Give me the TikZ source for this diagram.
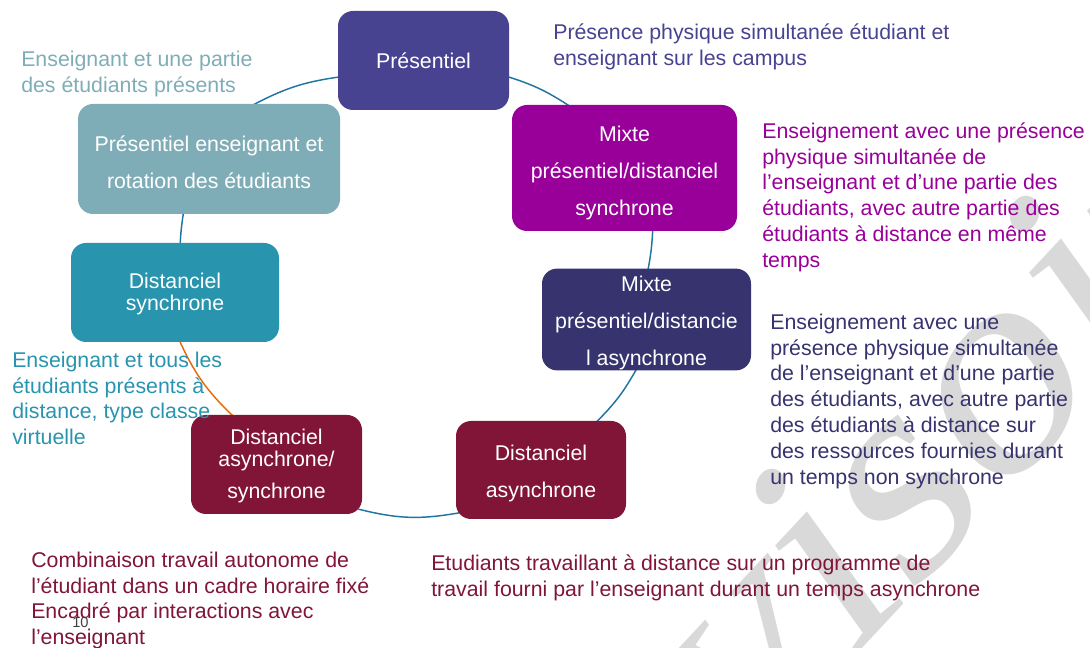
\documentclass[tikz,border=0pt]{standalone}
\usepackage{fontspec}
\setmainfont{Liberation Sans}
\newfontfamily\wmfont{Liberation Serif}
\usetikzlibrary{backgrounds}
\definecolor{cPres}{RGB}{72,67,145}
\definecolor{cMixS}{RGB}{153,0,153}
\definecolor{cMixA}{RGB}{54,51,110}
\definecolor{cDist}{RGB}{128,21,56}
\definecolor{cSync}{RGB}{40,148,174}
\definecolor{cRot}{RGB}{127,173,183}
\definecolor{cLink}{RGB}{31,117,160}
\definecolor{cOrange}{RGB}{228,108,10}
\definecolor{cWm}{RGB}{217,217,217}
\definecolor{cNum}{RGB}{64,64,64}
\newcommand{\liftline}[1]{\rule{0pt}{#1}}
\begin{document}
\begin{tikzpicture}[x=0.75pt,y=0.75pt,
  box/.style={draw=none, rounded corners=11.25pt, text=white, align=center, inner sep=0pt, font=\fontsize{16}{27.75}\selectfont},
  desc/.style={anchor=north west, align=left, inner sep=0pt, font=\fontsize{16}{19.35}\selectfont},
  link/.style={draw=cLink, line width=1.1pt, shorten <=-3pt, shorten >=-3pt},
  watermark/.style={anchor=base west, rotate=47, xslant=0.2, xscale=1.1, inner sep=0pt, text=cWm, font=\wmfont\fontsize{218}{218}\selectfont}
]
\useasboundingbox (0,0) rectangle (1090,-648);

% boxes
\node[box, fill=cPres, minimum width=128.25pt, minimum height=74.25pt] (b1) at (423.5,-60.5) {Présentiel};
\node[box, fill=cMixS, minimum width=168.75pt, minimum height=94.5pt] (b2) at (624.5,-168) {\liftline{19pt}Mixte\\présentiel/distanciel\\synchrone};
\node[box, fill=cMixA, minimum width=156.75pt, minimum height=74.25pt] (b3) at (646.5,-319.5) {\liftline{17.5pt}Mixte\\présentiel/distancie\\l asynchrone};
\node[box, fill=cDist, minimum width=127.5pt, minimum height=73.5pt] (b4) at (541,-470) {\liftline{17.5pt}Distanciel\\asynchrone};
\node[box, fill=cDist, minimum width=128.25pt, minimum height=74.25pt, font=\fontsize{16}{16.5}\selectfont] (b5) at (276.5,-464.5) {\liftline{13.7pt}Distanciel\\asynchrone/\\[7.5pt]synchrone};
\node[box, fill=cSync, minimum width=156pt, minimum height=74.25pt, font=\fontsize{16}{17}\selectfont] (b6) at (175,-292.5) {\liftline{13.7pt}Distanciel\\synchrone};
\node[box, fill=cRot, minimum width=196.5pt, minimum height=82.5pt] (b7) at (209,-159) {\liftline{16.5pt}Présentiel enseignant et\\rotation des étudiants};

% descriptions
\node[desc, text=cPres] (t1) at (553,-21) {\strut Présence physique simultanée étudiant et\\enseignant sur les campus};
\node[desc, text=cMixS] (t2) at (762,-120) {\strut Enseignement avec une présence\\physique simultanée de\\l’enseignant et d’une partie des\\étudiants, avec autre partie des\\étudiants à distance en même\\temps};
\node[desc, text=cMixA] (t3) at (770,-311) {\strut Enseignement avec une\\présence physique simultanée\\de l’enseignant et d’une partie\\des étudiants, avec autre partie\\des étudiants à distance sur\\des ressources fournies durant\\un temps non synchrone};
\node[desc, text=cDist] (t4) at (431,-552) {\strut Etudiants travaillant à distance sur un programme de\\travail fourni par l’enseignant durant un temps asynchrone};
\node[desc, text=cDist] (t5) at (31,-549) {\strut Combinaison travail autonome de\\l’étudiant dans un cadre horaire fixé\\Encadré par interactions avec\\l’enseignant};
\node[desc, text=cSync] (t6) at (12,-349) {\strut Enseignant et tous les\\étudiants présents à\\distance, type classe\\virtuelle};
\node[desc, text=cRot] (t7) at (21,-48) {\strut Enseignant et une partie\\des étudiants présents};
\node[anchor=base west, inner sep=0pt, text=cNum, font=\fontsize{11}{13}\selectfont] (num) at (72,-628) {10};

% watermark and connectors behind
\begin{scope}[on background layer]
  \clip (0,0) rectangle (1090,-648);
  \node[watermark] (wm) at (435,-1106) {Provisoire};
  \draw[link] (b1.-11) to[bend left=8] (b2.132);
  \draw[link] (b2.-66) to[bend left=4] (b3.88);
  \draw[link] (b3.-102) to[bend left=8] (b4.41);
  \draw[link] (b4.-153) to[bend left=12] (b5.-28);
  \draw[link, draw=cOrange] (b5.132) to[bend left=11] (b6.-84);
  \draw[link] (b6.84) to[bend left=3] (b7.-115);
  \draw[link] (b7.50) to[bend left=10] (b1.-169);
\end{scope}
\end{tikzpicture}
\end{document}
